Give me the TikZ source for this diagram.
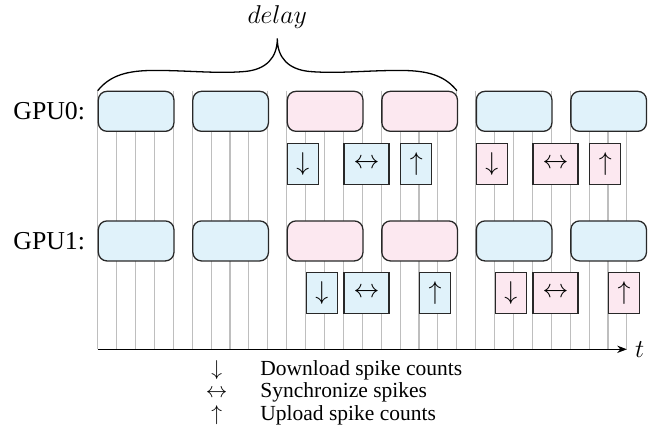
\documentclass[tikz,border=0pt]{standalone}
\usepackage[no-math]{fontspec}
\setmainfont{Liberation Serif}
\usetikzlibrary{arrows.meta}

\definecolor{phaseBlue}{RGB}{224,242,250}
\definecolor{phasePink}{RGB}{252,232,240}
\definecolor{edgeGray}{RGB}{40,40,40}
\definecolor{tickGray}{RGB}{190,190,190}

\tikzset{
  phase/.style={draw=edgeGray, line width=0.6pt, rounded corners=4pt,
    minimum width=35.16pt, minimum height=18.6pt, inner sep=0pt, anchor=north west},
  xfer/.style={draw=edgeGray, line width=0.6pt, minimum height=19.07pt,
    inner sep=0pt, anchor=north west, font=\large},
  narrowxfer/.style={xfer, minimum width=14.42pt},
  widexfer/.style={xfer, minimum width=20.93pt},
  tickline/.style={draw=tickGray, line width=0.5pt},
  rowlabel/.style={anchor=base east, inner sep=0pt, font=\large},
  legendsym/.style={anchor=base, inner sep=0pt},
  legendtxt/.style={anchor=base west, inner sep=0pt},
}

\begin{document}
\begin{tikzpicture}[x=0.4651pt, y=-0.4651pt]
\useasboundingbox (0,0) rectangle (667,435);

% time ticks (one per step, 29 of them)
\foreach \k in {0,...,28}
  \draw[tickline] ({97.7+\k*18.9},90.7) -- ({97.7+\k*18.9},349.3);

% simulation phases of both GPUs
\foreach \j/\c in {0/phaseBlue,1/phaseBlue,2/phasePink,3/phasePink,4/phaseBlue,5/phaseBlue}{
  \node[phase, fill=\c] (gpu0p\j) at ({97.7+5*\j*18.9},90.7) {};
  \node[phase, fill=\c] (gpu1p\j) at ({97.7+5*\j*18.9},220.3) {};
}

% transfers on GPU0
\node[narrowxfer, fill=phaseBlue] (g0dA) at ({97.7+10*18.9},142.7) {$\downarrow$};
\node[widexfer,   fill=phaseBlue] (g0sA) at ({97.7+13*18.9},142.7) {$\leftrightarrow$};
\node[narrowxfer, fill=phaseBlue] (g0uA) at ({97.7+16*18.9},142.7) {$\uparrow$};
\node[narrowxfer, fill=phasePink] (g0dB) at ({97.7+20*18.9},142.7) {$\downarrow$};
\node[widexfer,   fill=phasePink] (g0sB) at ({97.7+23*18.9},142.7) {$\leftrightarrow$};
\node[narrowxfer, fill=phasePink] (g0uB) at ({97.7+26*18.9},142.7) {$\uparrow$};

% transfers on GPU1
\node[narrowxfer, fill=phaseBlue] (g1dA) at ({97.7+11*18.9},272) {$\downarrow$};
\node[widexfer,   fill=phaseBlue] (g1sA) at ({97.7+13*18.9},272) {$\leftrightarrow$};
\node[narrowxfer, fill=phaseBlue] (g1uA) at ({97.7+17*18.9},272) {$\uparrow$};
\node[narrowxfer, fill=phasePink] (g1dB) at ({97.7+21*18.9},272) {$\downarrow$};
\node[widexfer,   fill=phasePink] (g1sB) at ({97.7+23*18.9},272) {$\leftrightarrow$};
\node[narrowxfer, fill=phasePink] (g1uB) at ({97.7+27*18.9},272) {$\uparrow$};

% row labels
\node[rowlabel] (lab0) at (85.5,120) {GPU0:};
\node[rowlabel] (lab1) at (85.5,249.3) {GPU1:};

% time axis
\coordinate (axStart) at (97.7,349.3);
\coordinate (axEnd) at (626.9,349.3);
\draw[line width=0.6pt, -{Stealth[length=4.5pt,width=3.4pt]}] (axStart) -- (axEnd);
\node[anchor=west, inner sep=0pt, xshift=3.6pt, font=\large] (tlab) at (axEnd) {$t$};

% brace spanning the delay
\coordinate (brL) at (97.7,90.7);
\coordinate (brTip) at (277.3,38.5);
\coordinate (brR) at (456.9,90.7);
\draw[line width=0.6pt]
  (brL) .. controls (108,78) and (122,71) .. (150,70.5)
        .. controls (185,70) and (215,74) .. (245,71.5)
        .. controls (266,69.5) and (277.3,58) .. (brTip)
        .. controls (277.3,58) and (288.6,69.5) .. (309.6,71.5)
        .. controls (339.6,74) and (369.6,70) .. (404.6,70.5)
        .. controls (432.6,71) and (446.6,78) .. (brR);
\node[anchor=base, inner sep=0pt, font=\large] (delayLab) at (277.3,23.5) {$delay$};

% legend
\node[legendsym] (symD) at (216.7,375) {$\downarrow$};
\node[legendsym] (symS) at (216.7,397.5) {$\leftrightarrow$};
\node[legendsym] (symU) at (216.7,420) {$\uparrow$};
\node[legendtxt] (txtD) at (260,375) {Download spike counts};
\node[legendtxt] (txtS) at (260,397.5) {Synchronize spikes};
\node[legendtxt] (txtU) at (260,420) {Upload spike counts};
\end{tikzpicture}
\end{document}
